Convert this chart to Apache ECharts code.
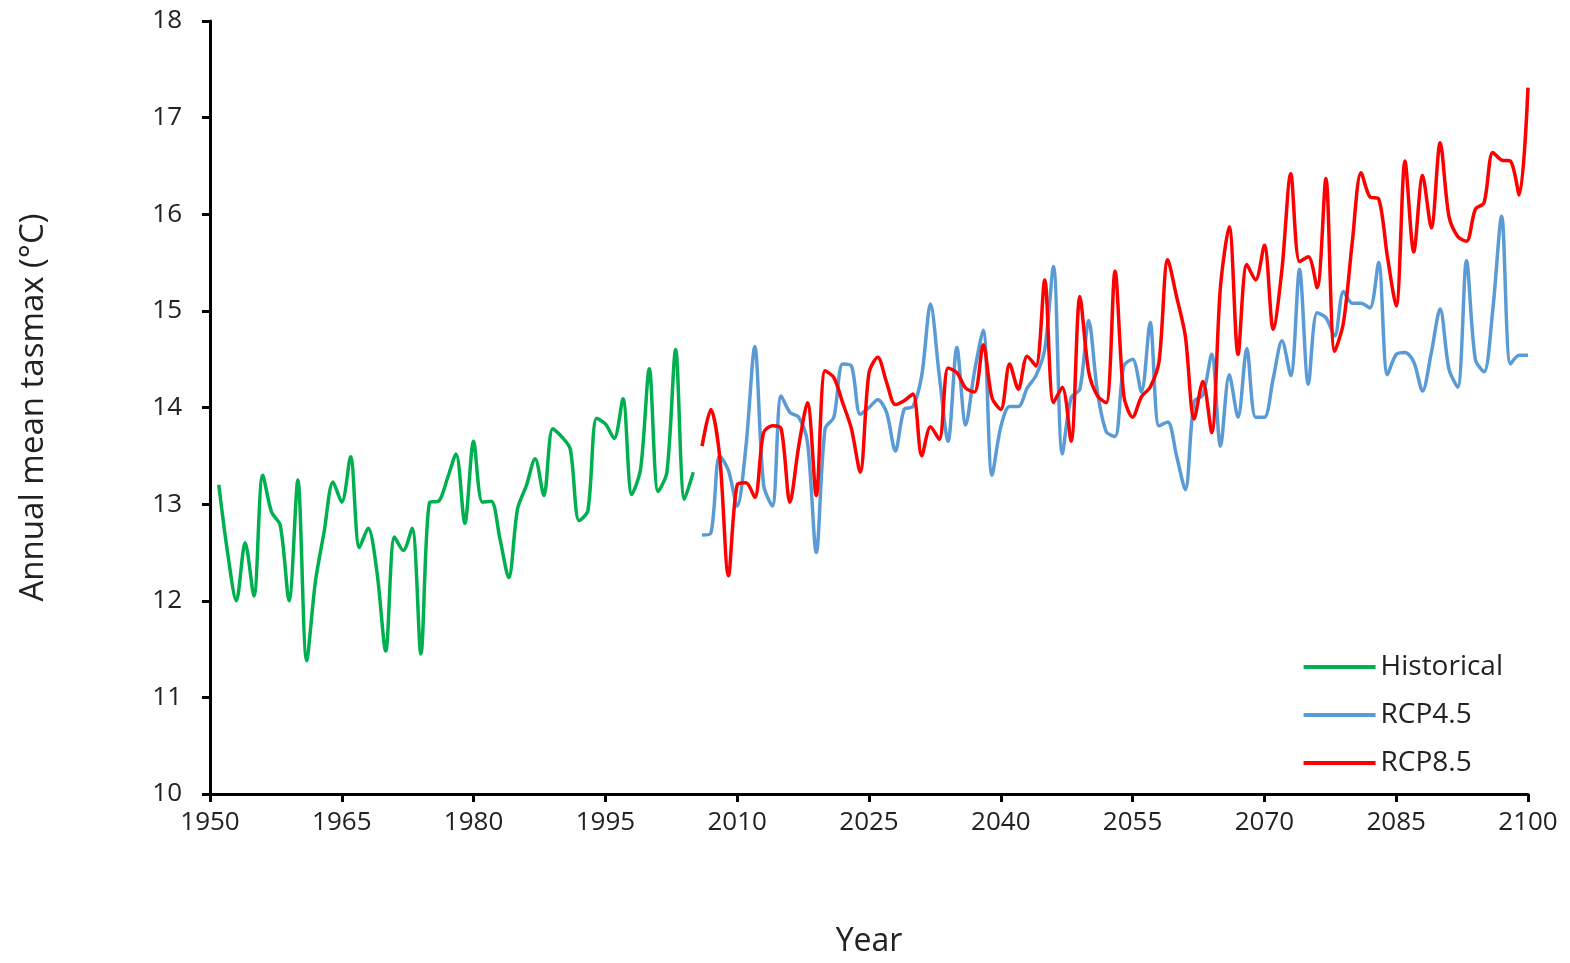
<!DOCTYPE html>
<html>
<head>
<meta charset="utf-8">
<title>tasmax</title>
<script src="https://cdn.jsdelivr.net/npm/echarts@6/dist/echarts.min.js"></script>
<style>
  * { margin: 0; padding: 0; }
  body { background: #fff; }
  #main { width: 1570px; height: 963px; }
</style>
</head>
<body>
<div id="main"></div>
<script>
// historical 1951-2005
var histStart = 1951;
var historical = [13.2, 12.5, 12.0, 12.6, 12.05, 13.3, 12.92, 12.78, 12.0, 13.25,
  11.38, 12.2, 12.72, 13.23, 13.02, 13.49, 12.55, 12.75, 12.3, 11.48,
  12.66, 12.52, 12.75, 11.45, 13.02, 13.03, 13.26, 13.52, 12.8, 13.65,
  13.02, 13.03, 12.64, 12.24, 12.95, 13.19, 13.47, 13.09, 13.78, 13.7,
  13.57, 12.83, 12.93, 13.89, 13.83, 13.68, 14.09, 13.1, 13.36, 14.4,
  13.13, 13.33, 14.6, 13.05, 13.33];
// scenarios 2006-2100
var rcpStart = 2006;
var rcp45 = [12.68, 12.7, 13.5, 13.35, 12.98, 13.6, 14.63, 13.2, 12.98, 14.12,
  13.95, 13.9, 13.64, 12.5, 13.78, 13.9, 14.45, 14.43, 13.93, 14.0,
  14.08, 13.95, 13.55, 13.98, 14.01, 14.33, 15.07, 14.33, 13.65, 14.62,
  13.82, 14.37, 14.8, 13.3, 13.8, 14.01, 14.01, 14.2, 14.33, 14.6,
  15.46, 13.52, 14.1, 14.19, 14.9, 14.16, 13.75, 13.7, 14.43, 14.5,
  14.16, 14.88, 13.81, 13.85, 13.5, 13.15, 14.06, 14.13, 14.55, 13.6,
  14.34, 13.9, 14.61, 13.9, 13.9, 14.3, 14.69, 14.33, 15.43, 14.24,
  14.98, 14.93, 14.74, 15.2, 15.08, 15.08, 15.03, 15.5, 14.34, 14.55,
  14.57, 14.47, 14.17, 14.57, 15.02, 14.4, 14.21, 15.52, 14.5, 14.37,
  15.02, 15.98, 14.45, 14.54, 14.54];
var rcp85 = [13.6, 13.98, 13.5, 12.26, 13.2, 13.22, 13.07, 13.74, 13.81, 13.78,
  13.02, 13.6, 14.05, 13.09, 14.38, 14.31, 14.05, 13.78, 13.33, 14.36,
  14.52, 14.26, 14.03, 14.07, 14.14, 13.5, 13.8, 13.67, 14.41, 14.36,
  14.2, 14.16, 14.65, 14.1, 13.98, 14.45, 14.19, 14.53, 14.43, 15.32,
  14.05, 14.21, 13.65, 15.15, 14.37, 14.12, 14.05, 15.41, 14.12, 13.9,
  14.11, 14.21, 14.47, 15.53, 15.15, 14.74, 13.88, 14.27, 13.74, 15.25,
  15.87, 14.55, 15.48, 15.32, 15.68, 14.81, 15.43, 16.42, 15.51, 15.56,
  15.24, 16.37, 14.58, 14.88, 15.71, 16.43, 16.18, 16.16, 15.56, 15.05,
  16.55, 15.61, 16.4, 15.86, 16.74, 15.98, 15.77, 15.72, 16.05, 16.12,
  16.64, 16.56, 16.55, 16.2, 17.31];

function pairs(start, vals) {
  return vals.map(function (v, i) { return [start + i, v]; });
}

var font = '"Open Sans", "Liberation Sans", sans-serif';
var chart = echarts.init(document.getElementById('main'));
var option = {
  animation: false,
  textStyle: { fontFamily: font },
  grid: { left: 210, right: 42, top: 21, bottom: 167 },
  legend: {
    orient: 'vertical', right: 62, top: 648, itemWidth: 72, itemHeight: 4,
    itemGap: 20, icon: 'rect',
    textStyle: { fontSize: 28, color: '#222', fontFamily: font },
    data: ['Historical', 'RCP4.5', 'RCP8.5']
  },
  xAxis: {
    type: 'value', min: 1950, max: 2100, interval: 15,
    name: 'Year', nameLocation: 'middle', nameGap: 132,
    nameTextStyle: { fontSize: 32, color: '#222' },
    axisLine: { lineStyle: { color: '#000', width: 3 } },
    axisTick: { length: 8, lineStyle: { color: '#000', width: 3 } },
    axisLabel: { fontSize: 26, color: '#222', margin: 16,
      formatter: function (v) { return String(v); } },
    splitLine: { show: false }
  },
  yAxis: {
    type: 'value', min: 10, max: 18, interval: 1,
    name: 'Annual mean tasmax (°C)', nameLocation: 'middle', nameGap: 160,
    nameTextStyle: { fontSize: 33, color: '#222' },
    axisLine: { show: true, lineStyle: { color: '#000', width: 3 } },
    axisTick: { show: true, length: 8, lineStyle: { color: '#000', width: 3 } },
    axisLabel: { fontSize: 26, color: '#222', margin: 28 },
    splitLine: { show: false }
  },
  series: [
    { name: 'Historical', type: 'line', smooth: 0.3, symbol: 'none',
      color: '#00B050', lineStyle: { width: 3.5 }, data: pairs(histStart, historical) },
    { name: 'RCP4.5', type: 'line', smooth: 0.3, symbol: 'none',
      color: '#5B9BD5', lineStyle: { width: 3.5 }, data: pairs(rcpStart, rcp45) },
    { name: 'RCP8.5', type: 'line', smooth: 0.3, symbol: 'none',
      color: '#FF0000', lineStyle: { width: 3.5 }, z: 3, data: pairs(rcpStart, rcp85) }
  ]
};
chart.setOption(option);
</script>
</body>
</html>
